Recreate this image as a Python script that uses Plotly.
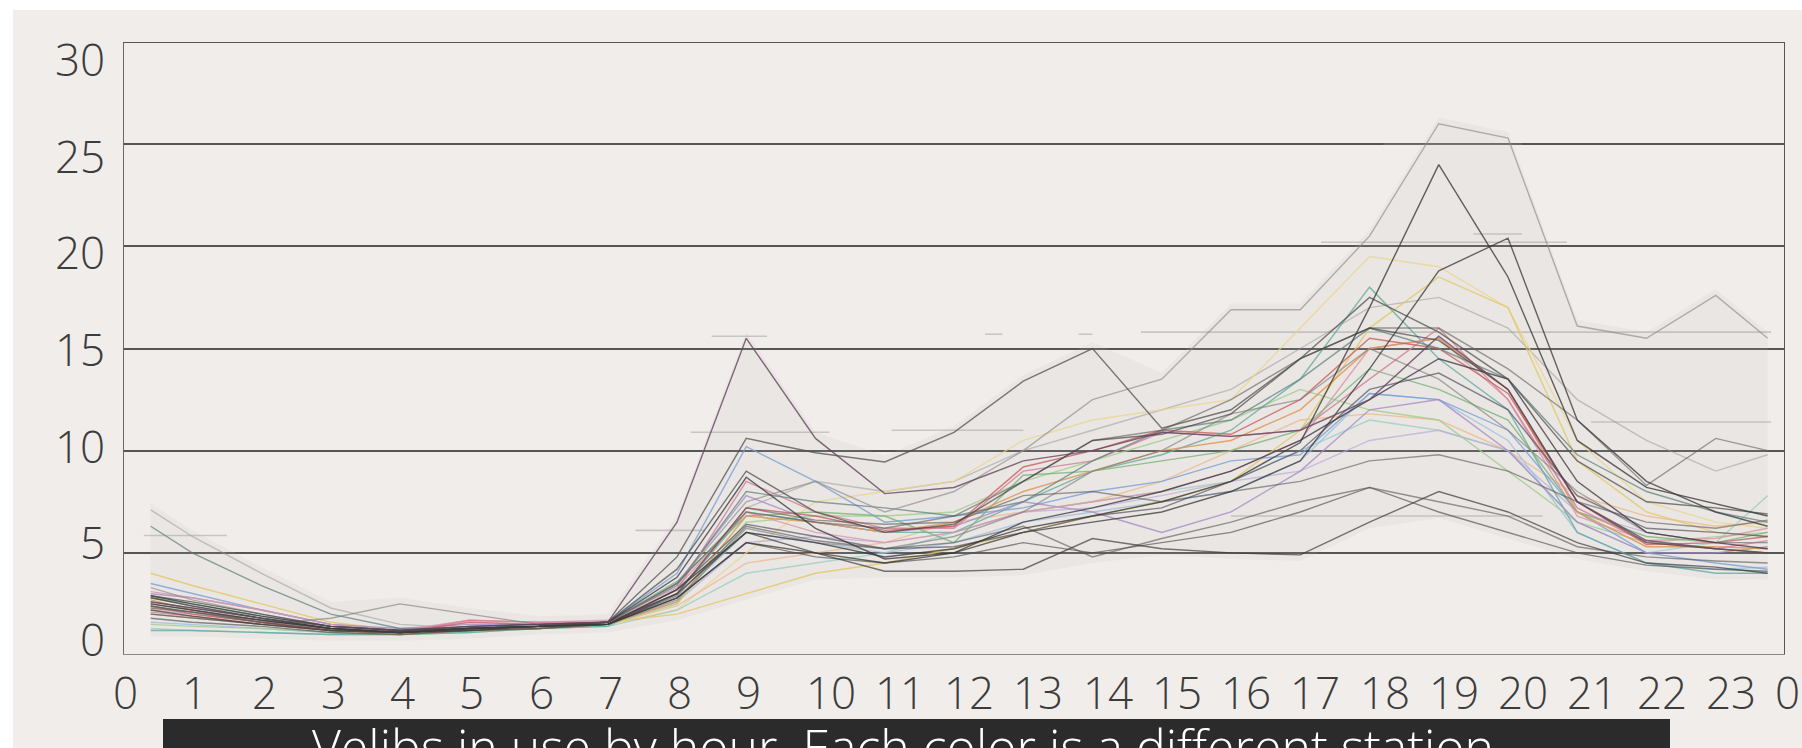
import plotly.graph_objects as go

# ---------------------------------------------------------------- data
# hour of day for each sample (first and last samples fall inside the hour)
HOURS = [0.4] + list(range(1, 24)) + [23.75]

X_TICK_POS = list(range(25))
X_TICK_TEXT = [str(h) for h in range(24)] + ["0"]
Y_TICK_VALS = [0, 5, 10, 15, 20, 25, 30]

# bikes in use per station, one value per sample in HOURS
st_morning_peak = [2.6, 2.3, 1.8, 1.4, 1.2, 1.4, 1.5, 1.6, 6.5, 15.5, 10.6, 7.9, 8.2, 9.5, 10.0, 10.9, 10.7, 11.0, 12.5, 15.6, 13.0, 7.5, 5.6, 5.2, 5.0]
st_evening_26 = [3.3, 2.7, 2.0, 1.4, 1.2, 1.3, 1.4, 1.6, 3.5, 7.5, 8.5, 7.0, 8.0, 10.0, 12.5, 13.5, 16.9, 16.9, 20.5, 26.0, 25.3, 16.1, 15.5, 17.6, 15.5]
st_evening_24 = [2.8, 2.4, 1.8, 1.3, 1.1, 1.3, 1.4, 1.5, 3.2, 6.0, 5.5, 4.8, 5.2, 6.2, 6.8, 7.5, 8.5, 10.4, 17.0, 24.0, 18.5, 10.5, 8.2, 7.4, 6.8]
st_evening_20 = [2.5, 2.2, 1.7, 1.3, 1.1, 1.3, 1.4, 1.5, 2.8, 5.5, 5.0, 4.5, 5.0, 6.0, 6.5, 7.0, 8.0, 9.5, 14.0, 18.8, 20.4, 11.5, 8.5, 7.0, 6.3]
st_midday_15 = [2.4, 2.1, 1.6, 1.2, 1.1, 1.3, 1.4, 1.6, 4.8, 10.6, 9.9, 9.45, 10.9, 13.4, 15.0, 11.1, 12.0, 14.5, 17.5, 15.8, 13.5, 9.5, 7.5, 7.2, 6.9]
st_dark_a = [2.9, 2.5, 1.9, 1.4, 1.2, 1.4, 1.5, 1.6, 3.8, 8.7, 6.2, 4.7, 5.0, 6.5, 7.2, 8.0, 9.0, 10.5, 12.5, 14.5, 13.5, 8.5, 6.0, 5.5, 5.2]
st_dark_low = [2.2, 1.9, 1.5, 1.2, 1.1, 1.2, 1.4, 1.5, 3.0, 6.0, 5.0, 4.1, 4.1, 4.2, 5.7, 5.2, 5.0, 4.9, 6.5, 8.0, 7.0, 5.5, 4.5, 4.3, 4.0]
st_dark_b = [2.0, 1.8, 1.5, 1.2, 1.1, 1.2, 1.3, 1.5, 2.9, 6.3, 5.6, 5.2, 5.5, 6.3, 4.8, 5.7, 6.5, 7.5, 8.2, 7.5, 6.8, 5.3, 4.8, 4.6, 4.5]
st_dark_c = [1.8, 1.6, 1.4, 1.1, 1.0, 1.2, 1.3, 1.5, 2.8, 5.5, 4.8, 4.5, 4.8, 5.5, 5.0, 5.5, 6.0, 7.0, 8.2, 7.0, 6.0, 5.0, 4.4, 4.2, 4.1]
st_dark_d = [2.5, 2.2, 1.7, 1.3, 1.1, 1.3, 1.4, 1.6, 3.5, 7.0, 6.5, 6.2, 6.8, 8.5, 10.5, 11.0, 12.5, 14.5, 16.0, 16.0, 14.0, 11.5, 8.3, 10.6, 10.0]
st_dark_e = [2.6, 2.3, 1.8, 1.3, 1.1, 1.3, 1.4, 1.5, 3.2, 6.4, 5.8, 5.2, 5.3, 6.0, 6.8, 7.2, 8.5, 10.0, 13.0, 13.8, 12.0, 7.8, 6.2, 6.0, 5.8]
st_dark_f = [2.3, 2.1, 1.7, 1.3, 1.1, 1.3, 1.4, 1.6, 3.0, 7.2, 6.6, 6.4, 6.5, 7.8, 8.0, 7.5, 8.0, 8.5, 9.5, 9.8, 9.0, 7.5, 6.5, 6.2, 6.6]
st_dark_g = [2.9, 2.6, 2.0, 1.4, 1.2, 1.3, 1.4, 1.6, 4.2, 9.0, 7.0, 6.0, 6.4, 8.5, 10.5, 10.8, 11.8, 14.5, 16.0, 15.4, 13.0, 7.5, 5.5, 5.2, 5.0]
st_pink = [2.1, 1.9, 1.5, 1.2, 1.1, 1.7, 1.6, 1.6, 3.2, 8.5, 7.0, 6.2, 6.2, 9.0, 9.5, 10.9, 10.7, 11.0, 13.5, 16.0, 12.5, 7.2, 5.5, 5.2, 5.6]
st_orange = [2.7, 2.2, 1.6, 1.2, 1.0, 1.2, 1.3, 1.5, 2.6, 6.8, 6.5, 6.0, 6.5, 8.0, 9.0, 10.0, 10.5, 12.0, 15.0, 15.5, 13.0, 7.0, 5.3, 5.3, 5.2]
st_yellow = [4.0, 3.4, 2.5, 1.6, 1.2, 1.3, 1.4, 1.6, 2.0, 3.0, 4.0, 4.5, 5.2, 6.0, 6.8, 7.5, 8.5, 11.0, 16.0, 18.5, 17.0, 9.5, 7.0, 6.0, 5.8]
st_green = [1.5, 1.4, 1.3, 1.1, 1.0, 1.2, 1.3, 1.5, 2.5, 6.5, 6.8, 6.8, 7.0, 8.5, 9.5, 10.5, 11.5, 13.0, 12.0, 11.5, 9.0, 6.5, 5.5, 5.8, 6.0]
st_teal = [1.2, 1.2, 1.1, 1.0, 1.0, 1.1, 1.3, 1.4, 3.0, 7.0, 6.5, 6.0, 6.0, 7.5, 9.0, 9.8, 11.0, 13.5, 18.0, 14.5, 12.0, 6.0, 4.5, 4.0, 4.0]
st_blue = [3.5, 3.0, 2.2, 1.5, 1.2, 1.3, 1.4, 1.6, 4.0, 10.2, 8.5, 6.5, 6.8, 7.2, 8.0, 8.5, 9.5, 9.8, 12.8, 12.5, 11.0, 7.0, 5.0, 4.5, 4.2]
st_purple = [3.0, 2.8, 2.2, 1.5, 1.3, 1.5, 1.5, 1.6, 3.5, 7.8, 6.5, 6.0, 6.3, 7.5, 7.0, 6.0, 7.0, 9.0, 12.0, 12.5, 10.0, 6.5, 5.0, 5.0, 5.3]
st_red = [2.4, 2.0, 1.6, 1.2, 1.1, 1.6, 1.5, 1.6, 3.0, 7.2, 6.8, 6.1, 6.3, 9.2, 10.0, 11.0, 10.8, 12.5, 15.5, 15.0, 12.8, 7.5, 5.4, 5.5, 5.8]
st_pale_yellow = [2.0, 1.8, 1.5, 1.2, 1.1, 1.2, 1.3, 1.5, 2.2, 5.0, 7.5, 8.0, 8.5, 10.5, 11.5, 12.0, 12.5, 16.0, 19.5, 19.0, 17.0, 10.5, 7.5, 6.5, 6.2]
st_light_orange = [2.3, 2.0, 1.6, 1.3, 1.1, 1.2, 1.3, 1.5, 2.4, 4.5, 5.0, 5.5, 6.5, 7.0, 7.5, 8.5, 10.0, 11.5, 11.8, 11.5, 10.0, 7.8, 6.8, 6.3, 6.5]
st_mid_green = [2.8, 2.5, 1.9, 1.4, 1.2, 1.3, 1.4, 1.6, 3.6, 6.8, 7.0, 6.8, 5.5, 8.8, 9.0, 9.5, 10.0, 11.0, 14.0, 13.0, 11.5, 7.0, 5.8, 5.5, 6.0]
st_light_blue = [1.6, 1.5, 1.3, 1.1, 1.0, 1.2, 1.3, 1.5, 2.8, 6.0, 5.5, 5.0, 5.5, 6.5, 7.0, 7.5, 8.0, 9.5, 12.8, 12.5, 10.5, 6.0, 4.5, 4.2, 4.3]
st_rose = [3.1, 2.8, 2.2, 1.5, 1.2, 1.7, 1.6, 1.7, 3.3, 7.0, 6.0, 5.5, 6.0, 7.0, 7.5, 8.0, 9.0, 10.5, 15.0, 15.5, 12.5, 6.8, 5.6, 5.7, 6.2]
st_lavender = [2.2, 2.0, 1.6, 1.2, 1.1, 1.4, 1.4, 1.5, 2.6, 5.5, 5.8, 5.5, 6.0, 7.0, 7.2, 7.8, 8.5, 9.0, 10.5, 11.0, 10.0, 7.0, 6.0, 5.5, 5.5]
st_pale_teal = [1.3, 1.2, 1.1, 1.0, 1.0, 1.1, 1.3, 1.4, 2.2, 4.0, 4.5, 5.0, 6.0, 7.0, 7.5, 8.0, 8.5, 10.0, 11.5, 11.0, 10.0, 6.5, 5.0, 5.5, 7.8]
st_light_gray = [7.1, 5.8, 4.0, 2.3, 1.5, 1.3, 1.4, 1.5, 3.0, 7.2, 8.5, 8.0, 8.5, 10.0, 11.0, 12.0, 13.0, 15.0, 17.0, 17.5, 16.0, 12.5, 10.5, 9.0, 9.8]
st_steep_night = [6.3, 5.0, 3.4, 2.0, 1.3, 1.3, 1.4, 1.6, 3.4, 8.0, 7.5, 7.2, 6.8, 7.5, 9.5, 11.0, 11.5, 13.5, 16.0, 15.0, 13.5, 9.8, 8.0, 7.0, 6.5]
st_night_bump = [2.0, 1.8, 1.5, 1.8, 2.5, 2.0, 1.5, 1.5, 2.7, 6.2, 5.5, 5.2, 5.8, 7.0, 9.0, 10.0, 11.8, 12.5, 15.0, 13.5, 11.0, 8.0, 6.0, 5.5, 5.5]

STATIONS = [
    (st_light_gray, "rgba(150,150,150,0.5)"),
    (st_pale_yellow, "rgba(232,214,140,0.75)"),
    (st_light_orange, "rgba(240,180,130,0.7)"),
    (st_pale_teal, "rgba(150,205,195,0.75)"),
    (st_lavender, "rgba(185,170,215,0.7)"),
    (st_light_blue, "rgba(150,190,225,0.75)"),
    (st_green, "rgba(160,205,140,0.8)"),
    (st_yellow, "rgba(225,200,100,0.8)"),
    (st_teal, "rgba(100,170,160,0.8)"),
    (st_blue, "rgba(120,160,215,0.8)"),
    (st_purple, "rgba(165,140,200,0.8)"),
    (st_rose, "rgba(215,150,170,0.8)"),
    (st_mid_green, "rgba(120,180,120,0.8)"),
    (st_orange, "rgba(225,150,85,0.85)"),
    (st_pink, "rgba(210,130,155,0.85)"),
    (st_red, "rgba(200,95,95,0.8)"),
    (st_night_bump, "rgba(120,120,120,0.6)"),
    (st_steep_night, "rgba(90,125,122,0.7)"),
    (st_evening_26, "rgba(140,140,140,0.65)"),
    (st_dark_f, "rgba(90,90,90,0.6)"),
    (st_dark_e, "rgba(75,72,90,0.65)"),
    (st_dark_d, "rgba(95,95,95,0.6)"),
    (st_dark_c, "rgba(80,80,80,0.65)"),
    (st_dark_b, "rgba(85,85,85,0.6)"),
    (st_dark_low, "rgba(60,60,60,0.7)"),
    (st_dark_a, "rgba(55,50,60,0.75)"),
    (st_dark_g, "rgba(60,60,60,0.65)"),
    (st_midday_15, "rgba(80,80,80,0.75)"),
    (st_evening_20, "rgba(55,55,55,0.75)"),
    (st_evening_24, "rgba(60,60,60,0.8)"),
    (st_morning_peak, "rgba(100,70,95,0.8)"),
]

# faint reference marks: start hour, end hour, level
MARK_X0 = [0.3, 8.5, 8.2, 7.4, 11.1, 12.45, 13.8, 14.7, 17.3, 19.5, 18.2, 21.2, 16.0]
MARK_X1 = [1.5, 9.3, 10.2, 8.4, 13.0, 12.7, 14.0, 23.8, 20.85, 20.2, 20.2, 23.8, 20.5]
MARK_Y = [5.85, 15.6, 10.9, 6.1, 11.0, 15.7, 15.7, 15.8, 20.2, 20.6, 25.0, 11.4, 6.8]

CAPTION = "Velibs in use by hour. Each color is a different station"

# ---------------------------------------------------------------- layout constants
W, H = 1802, 748
M_L, M_R, M_T, M_B = 123, 17, 42, 93
PLOT_W = W - M_L - M_R
PLOT_H = H - M_T - M_B
BG = "#f1edea"
TICK_FONT = dict(family="Open Sans, DejaVu Sans, sans-serif", size=44, color="#3c3c3c", weight=300)


def paper_x(px):
    return (px - M_L) / PLOT_W


def paper_y(py):
    return (H - M_B - py) / PLOT_H


fig = go.Figure()

# soft haze behind the bundle of station lines
lo = [min(v) - 0.3 for v in zip(*(s for s, _ in STATIONS))]
hi = [max(v) + 0.3 for v in zip(*(s for s, _ in STATIONS))]
fig.add_trace(go.Scatter(
    x=HOURS + HOURS[::-1], y=hi + lo[::-1], fill="toself",
    fillcolor="rgba(190,188,184,0.13)", line=dict(width=0),
    hoverinfo="skip", showlegend=False,
))

for x0, x1, y in zip(MARK_X0, MARK_X1, MARK_Y):
    fig.add_trace(go.Scatter(
        x=[x0, x1], y=[y, y], mode="lines",
        line=dict(color="rgba(140,140,140,0.4)", width=1.6),
        hoverinfo="skip", showlegend=False,
    ))

for values, color in STATIONS:
    fig.add_trace(go.Scatter(
        x=HOURS, y=values, mode="lines",
        line=dict(color=color, width=1.4),
        showlegend=False,
    ))

shapes = [
    # white strips along the top and left edge of the card
    dict(type="rect", xref="paper", yref="paper", x0=paper_x(0), x1=paper_x(W),
         y0=paper_y(0), y1=paper_y(10), fillcolor="white", line=dict(width=0), layer="below"),
    dict(type="rect", xref="paper", yref="paper", x0=paper_x(0), x1=paper_x(13),
         y0=paper_y(0), y1=paper_y(H), fillcolor="white", line=dict(width=0), layer="below"),
    # plot frame
    dict(type="line", xref="x", yref="y", x0=0, x1=0, y0=0, y1=30, line=dict(color="#6a6a6a", width=2)),
    dict(type="line", xref="x", yref="y", x0=24, x1=24, y0=0, y1=30, line=dict(color="#555555", width=2)),
    dict(type="line", xref="x", yref="y", x0=0, x1=24, y0=30, y1=30, line=dict(color="#555555", width=2)),
    dict(type="line", xref="x", yref="y", x0=0, x1=24, y0=0, y1=0, line=dict(color="#8a8a8a", width=2)),
    # caption banner
    dict(type="rect", xref="paper", yref="paper", x0=paper_x(163), x1=paper_x(1670),
         y0=paper_y(H + 2), y1=paper_y(719), fillcolor="#2b2b2b", line=dict(width=0), layer="above"),
]

annotations = []
for pos, txt in zip(X_TICK_POS, X_TICK_TEXT):
    annotations.append(dict(
        x=pos, xref="x", y=paper_y(692), yref="paper", text=txt, showarrow=False,
        xanchor="left", xshift=-12, yanchor="middle", font=TICK_FONT,
    ))
for v in Y_TICK_VALS:
    annotations.append(dict(
        x=paper_x(107), xref="paper", y=v, yref="y", text=str(v), showarrow=False,
        xanchor="right", yanchor="middle", yshift=16 - 1.1 * v, font=TICK_FONT,
    ))
# caption text sits low in the banner; its lower half runs past the page edge
annotations.append(dict(
    x=paper_x(903), xref="paper", y=paper_y(711), yref="paper", text=CAPTION,
    showarrow=False, xanchor="center", yanchor="top",
    font=dict(family="Open Sans, DejaVu Sans, sans-serif", size=50, color="white", weight=300),
))

fig.update_layout(
    width=W, height=H,
    margin=dict(l=M_L, r=M_R, t=M_T, b=M_B),
    paper_bgcolor=BG, plot_bgcolor="rgba(0,0,0,0)",
    showlegend=False,
    xaxis=dict(range=[0, 24], showgrid=False, zeroline=False, showticklabels=False,
               showline=False, fixedrange=True),
    yaxis=dict(range=[0, 30], tickvals=[5, 10, 15, 20, 25], showgrid=True,
               gridcolor="#555555", gridwidth=2, zeroline=False, showticklabels=False,
               showline=False, fixedrange=True),
    shapes=shapes,
    annotations=annotations,
)

fig.write_html("out.html")
